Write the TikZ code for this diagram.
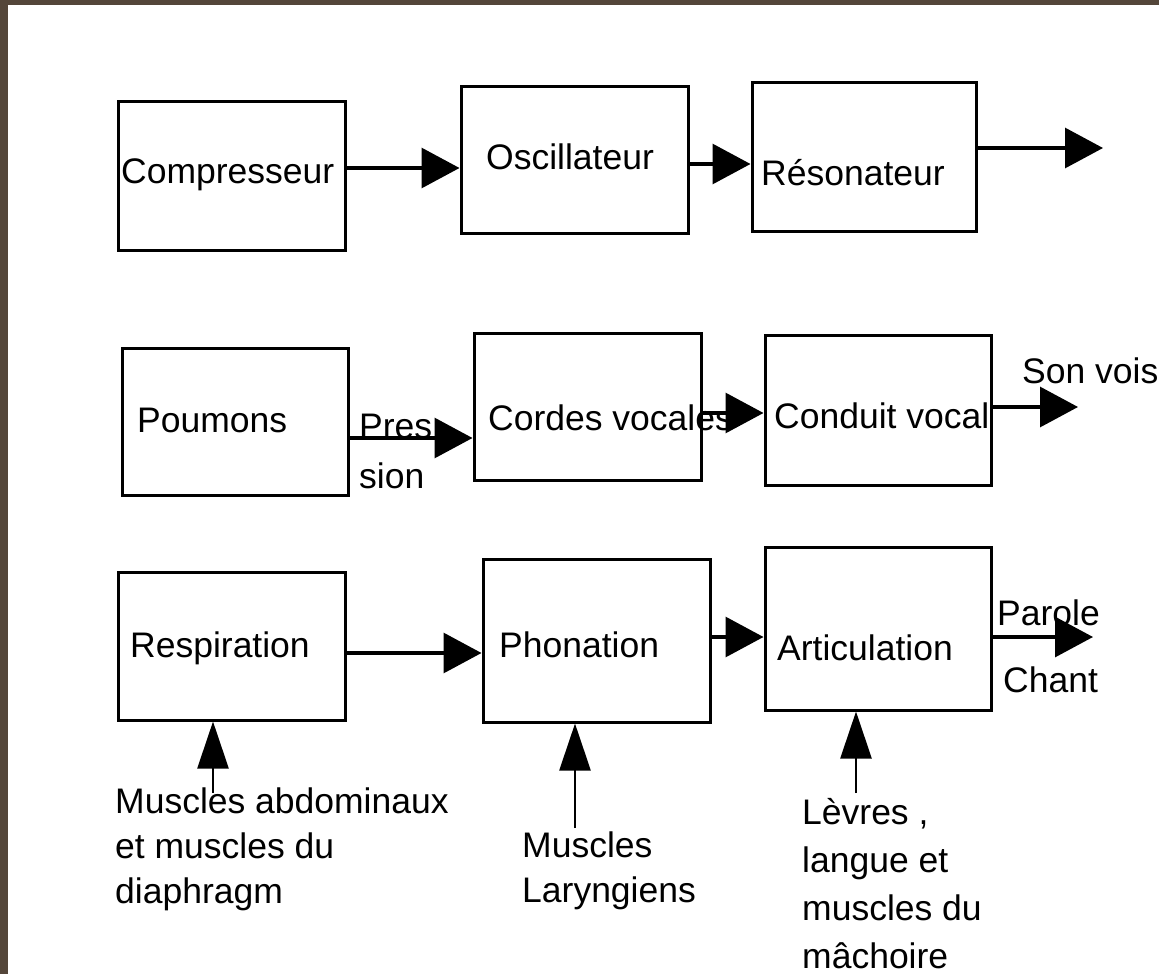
\documentclass[tikz,border=0pt]{standalone}
\usepackage{fontspec}
\setmainfont{Liberation Sans}
\usetikzlibrary{arrows.meta}
\definecolor{frame}{HTML}{54463A}
\tikzset{>={Triangle[length=38pt,width=40pt]}}
\tikzset{
  box/.style={draw,line width=3pt,minimum width=227pt,inner sep=0pt},
  lbl/.style={inner sep=0pt,font=\fontsize{35.5}{45}\selectfont},
  flow/.style={line width=3.2pt,->},
  up/.style={line width=2.4pt,-{Triangle[length=47pt,width=31pt]}}
}

\begin{document}
\begin{tikzpicture}[x=1pt,y=-1pt]
% Frame and page
\useasboundingbox (0,0) rectangle (1159,974);
\fill[frame] (0,0) rectangle (1159,974);
\fill[white] (8,5) rectangle (1159,974);

% Draw first row: compresseur, oscillateur, resonateur
\node[box,minimum height=149pt] (comp) at (231.5,175.5) {};
\node[box,minimum height=147pt] (osc)  at (574.5,159.5) {};
\node[box,minimum width=224pt,minimum height=149pt] (reso) at (864,156.5) {};
\node[lbl,anchor=base west] (compT) at (121,183) {Compresseur};
\node[lbl,anchor=base west] (oscT)  at (486,169) {Oscillateur};
\node[lbl,anchor=base west] (resoT) at (761,185) {Résonateur};
\coordinate (resoOut) at (1103,148);
\draw[flow] (comp.east |- 0,168) -- (osc.west |- 0,168);
\draw[flow] (osc.east |- 0,164) -- (reso.west |- 0,164);
\draw[flow] (reso.east |- resoOut) -- (resoOut);

% Draw second row: poumons, cordes vocales, conduit vocal
\node[box,minimum width=226pt,minimum height=147pt] (poum) at (235,421.5) {};
\node[box,minimum height=147pt] (cordes)  at (587.5,406.5) {};
\node[box,minimum width=226pt,minimum height=150pt] (conduit) at (878,410) {};
\node[lbl,anchor=base west] (poumT)    at (137,432) {Poumons};
\node[lbl,anchor=base west] (cordesT)  at (488,430) {Cordes vocales};
\node[lbl,anchor=base west] (conduitT) at (774,428) {Conduit vocal};
\coordinate (conduitOut) at (1078,407);
\draw[flow] (poum.east |- 0,438) -- (cordes.west |- 0,438);
\draw[flow] (cordes.east |- 0,413) -- (conduit.west |- 0,413);
\draw[flow] (conduit.east |- conduitOut) -- (conduitOut);
\node[lbl,anchor=base west] (pres) at (359,438) {Pres};
\node[lbl,anchor=base west] (sion) at (359,488) {sion};
\node[lbl,anchor=base west] (son)  at (1022,383) {Son vois};

% Draw third row: respiration, phonation, articulation
\node[box,minimum height=148pt] (resp)  at (231.5,646) {};
\node[box,minimum height=163pt] (phon)  at (596.5,640.5) {};
\node[box,minimum width=226pt,minimum height=163pt] (artic) at (878,628.5) {};
\node[lbl,anchor=base west] (respT)  at (130,657) {Respiration};
\node[lbl,anchor=base west] (phonT)  at (499,657) {Phonation};
\node[lbl,anchor=base west] (articT) at (777,660) {Articulation};
\coordinate (articOut) at (1093,637);
\draw[flow] (resp.east |- 0,653) -- (phon.west |- 0,653);
\draw[flow] (phon.east |- 0,637) -- (artic.west |- 0,637);
\draw[flow] (artic.east |- articOut) -- (articOut);
\node[lbl,anchor=base west] (parole) at (997,625) {Parole};
\node[lbl,anchor=base west] (chant)  at (1003,692) {Chant};

% Muscles under each stage
\coordinate (abdo) at (213,793);
\coordinate (lary) at (575,828);
\coordinate (levr) at (856,793);
\draw[up] (abdo) -- (resp.south -| abdo);
\draw[up] (lary) -- (phon.south -| lary);
\draw[up] (levr) -- (artic.south -| levr);
\node[lbl,anchor=north west,align=left] (abdoT) at (115,788)
  {Muscles abdominaux\\et muscles du\\diaphragm};
\node[lbl,anchor=north west,align=left] (laryT) at (522,832)
  {Muscles\\Laryngiens};
\node[lbl,anchor=north west,align=left,font=\fontsize{35.5}{48}\selectfont] (levrT) at (802,798)
  {Lèvres ,\\langue et\\muscles du\\mâchoire};
\end{tikzpicture}
\end{document}
